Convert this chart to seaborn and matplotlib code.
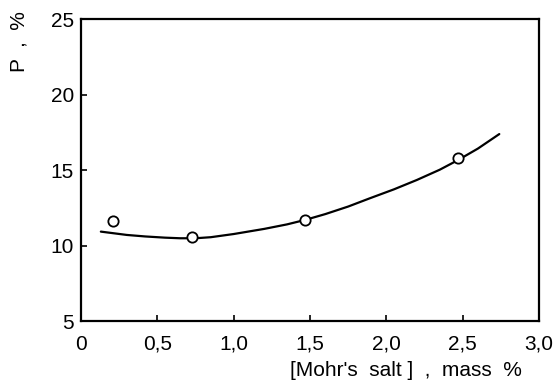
"""P vs Mohr's salt content: measured points and fitted curve."""

import matplotlib.pyplot as plt
import pandas as pd
import seaborn as sns

# Measured points
salt_pts = [0.21, 0.73, 1.47, 2.47]
p_pts = [11.6, 10.58, 11.72, 15.78]

# Fitted curve
salt_fit = [0.13, 0.3, 0.42, 0.55, 0.65, 0.75, 0.85, 1.0, 1.2, 1.35, 1.47, 1.6,
            1.75, 1.89, 2.05, 2.2, 2.35, 2.47, 2.6, 2.74]
p_fit = [10.92, 10.7, 10.6, 10.52, 10.48, 10.48, 10.55, 10.76, 11.1, 11.4, 11.7, 12.08,
         12.58, 13.12, 13.72, 14.34, 15.02, 15.66, 16.42, 17.38]

x_ticks = [0, 0.5, 1.0, 1.5, 2.0, 2.5, 3.0]
x_labels = ["0", "0,5", "1,0", "1,5", "2,0", "2,5", "3,0"]
y_ticks = [5, 10, 15, 20, 25]

sns.set_style("ticks")
plt.rcParams["font.family"] = ["Liberation Sans", "DejaVu Sans"]
plt.rcParams["text.color"] = "black"

fig = plt.figure(figsize=(5.59, 3.92), dpi=100)
ax = fig.add_axes([0.1449, 0.1811, 0.8193, 0.7704])

pts = pd.DataFrame({"salt": salt_pts, "p": p_pts})
fit = pd.DataFrame({"salt": salt_fit, "p": p_fit})

sns.lineplot(data=fit, x="salt", y="p", ax=ax, color="black", linewidth=1.6, sort=True)
sns.scatterplot(
    data=pts, x="salt", y="p", ax=ax, marker="o", s=55,
    facecolor="white", edgecolor="black", linewidth=1.3, zorder=3,
)

ax.set_xlim(0, 3.0)
ax.set_ylim(5, 25)
ax.set_xticks(x_ticks)
ax.set_xticklabels(x_labels)
ax.set_yticks(y_ticks)
ax.set_xlabel("")
ax.set_ylabel("")

for side in ["left", "bottom", "top", "right"]:
    ax.spines[side].set_visible(True)
    ax.spines[side].set_linewidth(1.6)
    ax.spines[side].set_color("black")

ax.tick_params(axis="both", direction="in", length=4, width=1.2, labelsize=15, colors="black")
ax.tick_params(axis="x", pad=10)
ax.tick_params(axis="y", pad=5)

fig.text(0.034, 0.893, "P  ,  %", rotation=90, ha="center", va="center",
         fontsize=15, color="black")
fig.text(0.934, 0.03, "[Mohr's  salt ]  ,  mass  %", ha="right", va="bottom",
         fontsize=15, color="black")

fig.savefig("out.png", dpi=100)
